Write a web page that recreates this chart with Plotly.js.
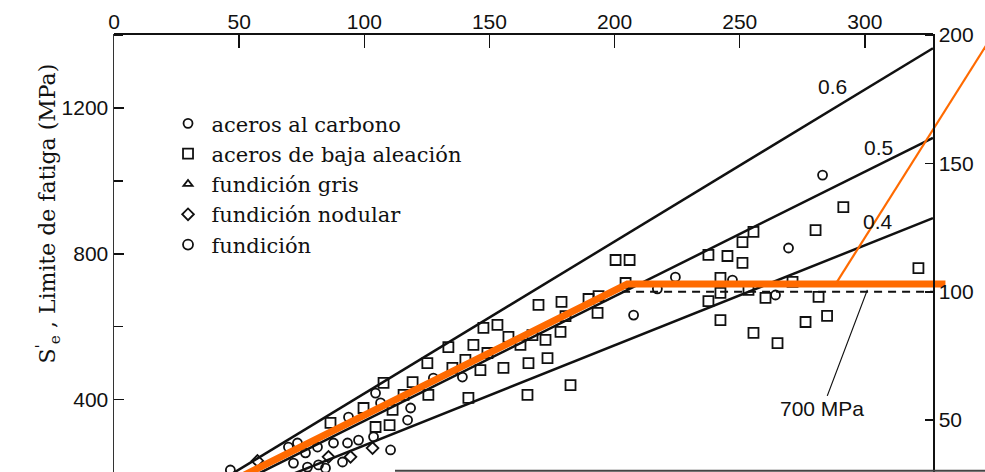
<!DOCTYPE html>
<html>
<head>
<meta charset="utf-8">
<script src="https://cdn.plot.ly/plotly-3.0.1.min.js"></script>
<style>
  body { margin: 0; background: #fff; }
  #chart { width: 985px; height: 472px; }
</style>
</head>
<body>
<div id="chart"></div>
<script>
// tensile strength (kpsi, top axis) and fatigue limit (MPa, left axis)
const carbonX = [46.5, 69.7, 73.3, 71.7, 76.5, 77.3, 81.3, 81.7, 84.5, 87.7, 91.3, 93.3, 93.7, 97.7,
                 103.7, 104.5, 106.5, 110.5, 118.5, 117.3, 127.6, 139.2, 207.6, 217.1, 224.3, 247.1,
                 264.3, 269.5, 283.1];
const carbonY = [207, 270, 281, 226, 254, 215, 270, 221, 212, 281, 229, 281, 352, 289,
                 298, 418, 391, 262, 377, 344, 459, 462, 632, 704, 736, 728,
                 687, 816, 1016];

const lowAlloyX = [86.5, 99.7, 107.7, 104.5, 110.1, 111.3, 115.7, 119.3, 125.6, 125.2, 133.6, 135.2,
                   140.4, 143.6, 141.6, 146.4, 149.2, 147.6, 153.2, 155.6, 157.6, 162.4, 165.6, 167.2,
                   165.2, 169.6, 178.8, 172.4, 173.2, 178.4, 180.4, 189.6, 193.6, 193.2, 182.4, 200.4,
                   206.0, 204.4, 237.5, 245.1, 251.1, 251.1, 255.5, 280.3, 291.4, 242.3, 242.3, 237.5,
                   242.3, 253.5, 260.3, 271.1, 281.5, 284.9, 276.3, 255.5, 265.1, 321.4];
const lowAlloyY = [336, 377, 446, 325, 330, 372, 413, 448, 413, 500, 544, 487,
                   509, 550, 405, 481, 528, 597, 605, 487, 572, 550, 500, 577,
                   413, 660, 668, 564, 514, 586, 629, 676, 684, 638, 440, 783,
                   783, 720, 797, 794, 775, 832, 860, 865, 928, 734, 693, 670,
                   618, 701, 679, 723, 682, 630, 613, 583, 555, 761];

// no points of these two series are visible in the cropped picture
const grayIronX = [null];
const grayIronY = [null];

const nodularX = [57.3, 85.7, 94.5, 103.3];
const nodularY = [232, 243, 243, 267];

const castX = [null];
const castY = [null];

// ratio lines Se = k * Sut, end points read at the right frame
const ratioLabels = ["0.6", "0.5", "0.4"];
const ratioLabelX = [286.9, 305.6, 305.2];
const ratioLabelY = [1258, 1093, 890];
const ratioX = [0, 327.2];
const ratio06Y = [0, 1364];
const ratio05Y = [0, 1118];
const ratio04Y = [0, 898];

// 100 kpsi (700 MPa) plateau, dashed, on the right axis
const plateauX = [203, 327.2];
const plateauKpsi = [100, 100];

// orange overlay
const orangeX = [50, 205.1, 332.2];
const orangeY = [186, 717, 717];
const orange2X = [288.3, 352];
const orange2Y = [717, 1410];

const topTicks = [0, 50, 100, 150, 200, 250, 300];
const leftTicks = [400, 800, 1200];
const rightTicks = [50, 100, 150, 200];

const ink = "#111";
const orange = "#ff6a00";
const serif = "DejaVu Serif, serif";
const sans = "Liberation Sans, Arial, sans-serif";

function pts(x, y, name, symbol, size) {
    return {
        x: x, y: y, name: name, type: "scatter", mode: "markers",
        marker: { symbol: symbol, size: size, color: ink, line: { width: 1.8, color: ink } }
    };
}
function line(x, y, extra) {
    return Object.assign({ x: x, y: y, type: "scatter", mode: "lines", showlegend: false,
        line: { color: ink, width: 2.5 } }, extra || {});
}

const data = [
    line(ratioX, ratio06Y),
    line(ratioX, ratio05Y),
    line(ratioX, ratio04Y),
    line(plateauX, plateauKpsi, { yaxis: "y2", line: { color: ink, width: 2, dash: "8px,6px" } }),
    pts(carbonX, carbonY, "aceros al carbono", "circle-open", 9),
    pts(lowAlloyX, lowAlloyY, "aceros de baja aleación", "square-open", 10),
    pts(grayIronX, grayIronY, "fundición gris", "triangle-up-open", 8),
    pts(nodularX, nodularY, "fundición nodular", "diamond-open", 9),
    pts(castX, castY, "fundición", "circle-open", 10),
    line(orangeX, orangeY, { line: { color: orange, width: 7 } }),
    line(orange2X, orange2Y, { line: { color: orange, width: 2.2 } })
];

const domRight = 819 / 871;
const tickFont = { family: sans, size: 21, color: ink };

const layout = {
    width: 985, height: 472,
    margin: { l: 114, r: 0, t: 34, b: 0 },
    paper_bgcolor: "#fff", plot_bgcolor: "rgba(0,0,0,0)",
    showlegend: true,
    legend: {
        x: 0.058, y: 0.842, xanchor: "left", yanchor: "top",
        bgcolor: "rgba(0,0,0,0)", borderwidth: 0, itemwidth: 37,
        font: { family: serif, size: 21, color: ink }
    },
    xaxis: {
        side: "top", range: [0, 348.0], tickvals: topTicks,
        ticks: "inside", ticklen: 14, tickwidth: 1.5, tickcolor: ink,
        showline: false, showgrid: false, zeroline: false, tickfont: tickFont
    },
    yaxis: {
        range: [201.5, 1403], tickvals: leftTicks,
        ticks: "inside", ticklen: 10, tickwidth: 1.5, tickcolor: ink,
        minor: { dtick: 200, tick0: 0, ticks: "inside", ticklen: 9, tickwidth: 1.5, tickcolor: ink },
        showline: true, linecolor: "#333", linewidth: 1.5,
        showgrid: false, zeroline: false, tickfont: tickFont
    },
    yaxis2: {
        overlaying: "y", side: "right", anchor: "free", position: domRight,
        range: [29.8, 200.4], tickvals: rightTicks,
        ticks: "inside", ticklen: 8, tickwidth: 1.5, tickcolor: ink,
        showline: true, linecolor: ink, linewidth: 1.5,
        showgrid: false, zeroline: false, tickfont: tickFont
    },
    shapes: [
        { type: "line", xref: "paper", yref: "paper", x0: 0, x1: domRight, y0: 1, y1: 1,
          line: { color: ink, width: 2 } },
        { type: "line", xref: "paper", yref: "paper", x0: (395 - 114) / 871, x1: 1, y0: 0.003, y1: 0.003,
          line: { color: "#444", width: 2 } }
    ],
    annotations: [
        { text: "S<sup>'</sup><sub>e</sub> , Limite de fatiga (MPa)", textangle: -90,
          xref: "paper", yref: "paper", x: -0.096, y: 0.591, showarrow: false,
          font: { family: serif, size: 22, color: ink } },
        { text: "700 MPa", x: 301, y: 701, showarrow: true, arrowhead: 0, arrowwidth: 1.2,
          arrowcolor: ink, ax: -45, ay: 119, font: tickFont }
    ]
};

ratioLabels.forEach(function(t, i) {
    layout.annotations.push({ text: t, x: ratioLabelX[i], y: ratioLabelY[i], showarrow: false, font: tickFont });
});

Plotly.newPlot("chart", data, layout, { staticPlot: true });
</script>
</body>
</html>
